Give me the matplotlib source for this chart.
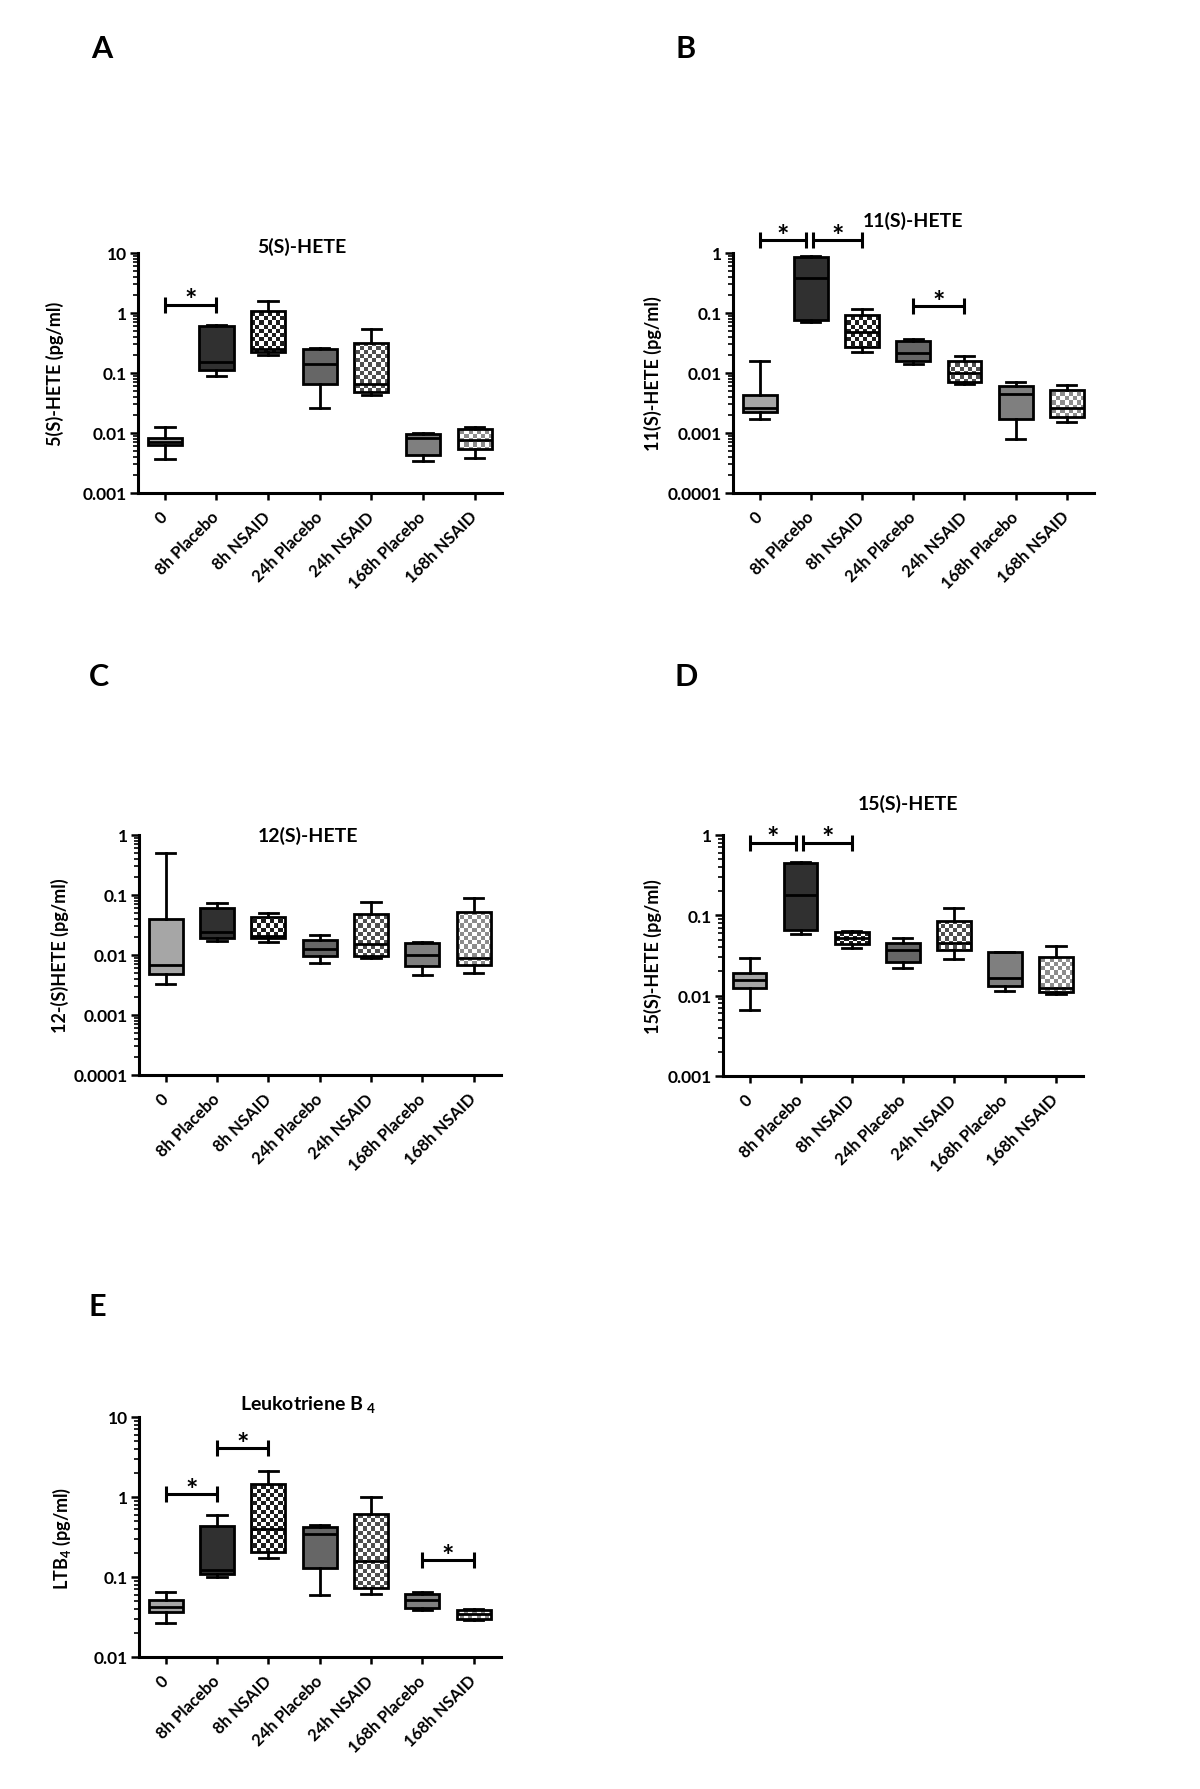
import numpy as np
import matplotlib
matplotlib.use("Agg")
import matplotlib.pyplot as plt
from matplotlib.ticker import LogLocator, FuncFormatter, NullFormatter

plt.rcParams['font.family'] = ['Lato', 'DejaVu Sans']
plt.rcParams['font.weight'] = 'bold'
plt.rcParams['mathtext.fontset'] = 'custom'
plt.rcParams['mathtext.rm'] = 'Lato:bold'
plt.rcParams['mathtext.it'] = 'Lato:bold'
plt.rcParams['mathtext.bf'] = 'Lato:bold'

groups = ['0', '8h Placebo', '8h NSAID', '24h Placebo', '24h NSAID',
          '168h Placebo', '168h NSAID']

# ---- 5(S)-HETE ----
h5_lo  = [0.0037, 0.089, 0.197, 0.0264, 0.0435, 0.00337, 0.00388]
h5_q1  = [0.0062, 0.111, 0.224, 0.066, 0.048, 0.00425, 0.00548]
h5_med = [0.0071, 0.152, 0.248, 0.143, 0.0647, 0.0084, 0.00755]
h5_q3  = [0.0084, 0.60, 1.08, 0.255, 0.32, 0.0095, 0.0118]
h5_hi  = [0.0126, 0.64, 1.6, 0.26, 0.548, 0.0100, 0.0126]
h5_sig = [(0, 1, 1.38)]

# ---- 11(S)-HETE ----
h11_lo  = [0.00169, 0.0708, 0.0224, 0.0143, 0.00664, 0.000805, 0.00153]
h11_q1  = [0.00224, 0.0774, 0.0271, 0.0158, 0.00708, 0.00173, 0.00185]
h11_med = [0.00264, 0.388, 0.0482, 0.0218, 0.0101, 0.0044, 0.00261]
h11_q3  = [0.00425, 0.86, 0.0914, 0.0337, 0.0156, 0.00607, 0.00514]
h11_hi  = [0.0161, 0.88, 0.115, 0.0373, 0.019, 0.0071, 0.00623]
h11_sig = [(0, 1, 1.63), (1, 2, 1.63), (3, 4, 0.129)]

# ---- 12(S)-HETE ----
h12_lo  = [0.00329, 0.0173, 0.0163, 0.00726, 0.0088, 0.0047, 0.0050]
h12_q1  = [0.00482, 0.019, 0.019, 0.0095, 0.0095, 0.00648, 0.0068]
h12_med = [0.0069, 0.0239, 0.021, 0.0126, 0.0152, 0.0100, 0.0088]
h12_q3  = [0.0398, 0.060, 0.0435, 0.018, 0.0482, 0.016, 0.0514]
h12_hi  = [0.495, 0.0727, 0.050, 0.0216, 0.0774, 0.0163, 0.088]
h12_sig = []

# ---- 15(S)-HETE ----
h15_lo  = [0.00659, 0.0594, 0.0391, 0.0222, 0.0285, 0.0115, 0.0104]
h15_q1  = [0.0125, 0.066, 0.0434, 0.0259, 0.0365, 0.0132, 0.0111]
h15_med = [0.0157, 0.179, 0.0515, 0.0372, 0.0455, 0.0167, 0.0125]
h15_q3  = [0.0194, 0.448, 0.062, 0.0459, 0.0855, 0.0345, 0.0305]
h15_hi  = [0.0293, 0.465, 0.063, 0.052, 0.125, 0.0348, 0.0418]
h15_sig = [(0, 1, 0.795), (1, 2, 0.795)]

# ---- Leukotriene B4 ----
ltb_lo  = [0.0269, 0.101, 0.174, 0.059, 0.0619, 0.0383, 0.029]
ltb_q1  = [0.0369, 0.110, 0.205, 0.131, 0.0736, 0.0406, 0.0301]
ltb_med = [0.0422, 0.122, 0.394, 0.341, 0.158, 0.051, 0.0341]
ltb_q3  = [0.051, 0.434, 1.44, 0.422, 0.613, 0.0607, 0.0387]
ltb_hi  = [0.0656, 0.59, 2.11, 0.442, 1.01, 0.065, 0.0402]
ltb_sig = [(0, 1, 1.08), (1, 2, 4.06), (5, 6, 0.162)]

# ---- styling ----
solid_fill = ['#a6a6a6', '#303030', None, '#666666', None, '#7f7f7f', None]
checker_dark = {2: '#1e1e1e', 4: '#4f4f4f', 6: '#8c8c8c'}

W, H = 1200, 1790
fig = plt.figure(figsize=(W / 100, H / 100), dpi=100)


def rect(l, t, r, b):
    return [l / W, 1 - b / H, (r - l) / W, (b - t) / H]


panels = [
    dict(letter='A', box=(138, 254, 502, 494), letter_xy=(102, 49),
         title='5(S)-HETE', title_xy=(0.45, 1.004), ylabel='5(S)-HETE (pg/ml)',
         ylabel_x=-0.228, ylim=(0.001, 10),
         data=(h5_lo, h5_q1, h5_med, h5_q3, h5_hi), sig=h5_sig),
    dict(letter='B', box=(733, 254, 1094, 494), letter_xy=(686, 49),
         title='11(S)-HETE', title_xy=(0.499, 1.1125), ylabel='11(S)-HETE (pg/ml)',
         ylabel_x=-0.222, ylim=(0.0001, 1),
         data=(h11_lo, h11_q1, h11_med, h11_q3, h11_hi), sig=h11_sig),
    dict(letter='C', box=(139, 836, 501, 1076), letter_xy=(99, 677),
         title='12(S)-HETE', title_xy=(0.467, 0.975), ylabel='12-(S)HETE (pg/ml)',
         ylabel_x=-0.218, ylim=(0.0001, 1),
         data=(h12_lo, h12_q1, h12_med, h12_q3, h12_hi), sig=h12_sig),
    dict(letter='D', box=(723, 836, 1083, 1077), letter_xy=(686, 677),
         title='15(S)-HETE', title_xy=(0.514, 1.108), ylabel='15(S)-HETE (pg/ml)',
         ylabel_x=-0.194, ylim=(0.001, 1),
         data=(h15_lo, h15_q1, h15_med, h15_q3, h15_hi), sig=h15_sig),
    dict(letter='E', box=(139, 1418, 501, 1658), letter_xy=(97, 1307),
         title='Leukotriene B $_4$', title_xy=(0.467, 1.033), ylabel='LTB$_4$ (pg/ml)',
         ylabel_x=-0.213, ylim=(0.01, 10),
         data=(ltb_lo, ltb_q1, ltb_med, ltb_q3, ltb_hi), sig=ltb_sig),
]

LW = 2.0

for p in panels:
    ax = fig.add_axes(rect(*p['box']))
    ax.set_yscale('log')
    ax.set_xlim(-0.52, 6.53)
    ax.set_ylim(*p['ylim'])

    lo, q1, med, q3, hi = p['data']
    stats = [dict(whislo=lo[i], q1=q1[i], med=med[i], q3=q3[i], whishi=hi[i],
                  fliers=[], label=groups[i]) for i in range(len(groups))]
    res = ax.bxp(stats, positions=range(len(groups)), widths=0.66,
                 capwidths=0.375, patch_artist=True, showfliers=False,
                 zorder=3,
                 boxprops=dict(linewidth=LW, edgecolor='black', joinstyle='miter'),
                 whiskerprops=dict(linewidth=LW, color='black'),
                 capprops=dict(linewidth=LW, color='black'),
                 medianprops=dict(linewidth=LW, color='black', solid_capstyle='butt'))
    ny = int(round(ax.bbox.height / 4.2))
    nx = int(round(ax.bbox.width / 4.2))
    jj, ii = np.meshgrid(np.arange(nx), np.arange(ny))
    mask = (ii + jj) % 2
    for i, bx in enumerate(res['boxes']):
        if solid_fill[i] is not None:
            bx.set_facecolor(solid_fill[i])
        else:
            bx.set_facecolor('none')
            dark = np.array(matplotlib.colors.to_rgb(checker_dark[i]))
            img = np.where(mask[..., None] == 1, dark, np.ones(3))
            im = ax.imshow(img, extent=(0, 1, 0, 1), transform=ax.transAxes,
                           interpolation='nearest', aspect='auto', zorder=2.5)
            im.set_clip_path(bx)
    ax.set_xlim(-0.52, 6.53)
    ax.set_ylim(*p['ylim'])

    # significance bars
    sig = p['sig']
    for (a, b, y) in sig:
        x0, x1 = float(a), float(b)
        for (c, d, y2) in sig:
            if y2 == y and c == b:
                x1 = b - 0.09
            if y2 == y and d == a:
                x0 = a + 0.05
        ax.plot([x0, x1], [y, y], color='black', lw=2.2, solid_capstyle='butt',
                zorder=4, clip_on=False)
        ax.plot([x0, x1], [y, y], ls='none', marker='|', ms=11, mew=2.2,
                color='black', zorder=4, clip_on=False)
        ax.annotate('*', ((x0 + x1) / 2, y), xytext=(0, -6),
                    textcoords='offset points', ha='center', va='bottom',
                    fontsize=21, fontweight='bold', annotation_clip=False)

    # axes styling
    for s in ['top', 'right']:
        ax.spines[s].set_visible(False)
    for s in ['left', 'bottom']:
        ax.spines[s].set_linewidth(2.2)
    ax.yaxis.set_major_locator(LogLocator(base=10, numticks=10))
    ax.yaxis.set_minor_locator(LogLocator(base=10, subs=np.arange(2, 10), numticks=20))
    ax.yaxis.set_major_formatter(FuncFormatter(lambda v, _: f"{v:g}"))
    ax.yaxis.set_minor_formatter(NullFormatter())
    ax.tick_params(axis='y', which='major', length=6, width=1.8, labelsize=12.5, pad=2)
    ax.tick_params(axis='y', which='minor', length=3.5, width=1.2)
    ax.set_xticks(range(len(groups)))
    ax.set_xticklabels(groups, rotation=45, ha='right', va='center',
                       rotation_mode='anchor', fontsize=12, fontweight='bold')
    ax.tick_params(axis='x', which='major', length=5, width=1.8, pad=10)
    ax.tick_params(axis='x', which='minor', length=0)
    for lab in ax.get_yticklabels():
        lab.set_fontweight('bold')
    ax.set_ylabel(p['ylabel'], fontsize=13, fontweight='bold', va='center')
    ax.yaxis.set_label_coords(p['ylabel_x'], 0.5)
    ax.text(p['title_xy'][0], p['title_xy'][1], p['title'], transform=ax.transAxes,
            ha='center', va='baseline', fontsize=14, fontweight='bold')
    lx, ly = p['letter_xy']
    fig.text(lx / W, 1 - ly / H, p['letter'], ha='center', va='center',
             fontsize=22, fontweight='bold')

fig.savefig('out.png', dpi=100)
